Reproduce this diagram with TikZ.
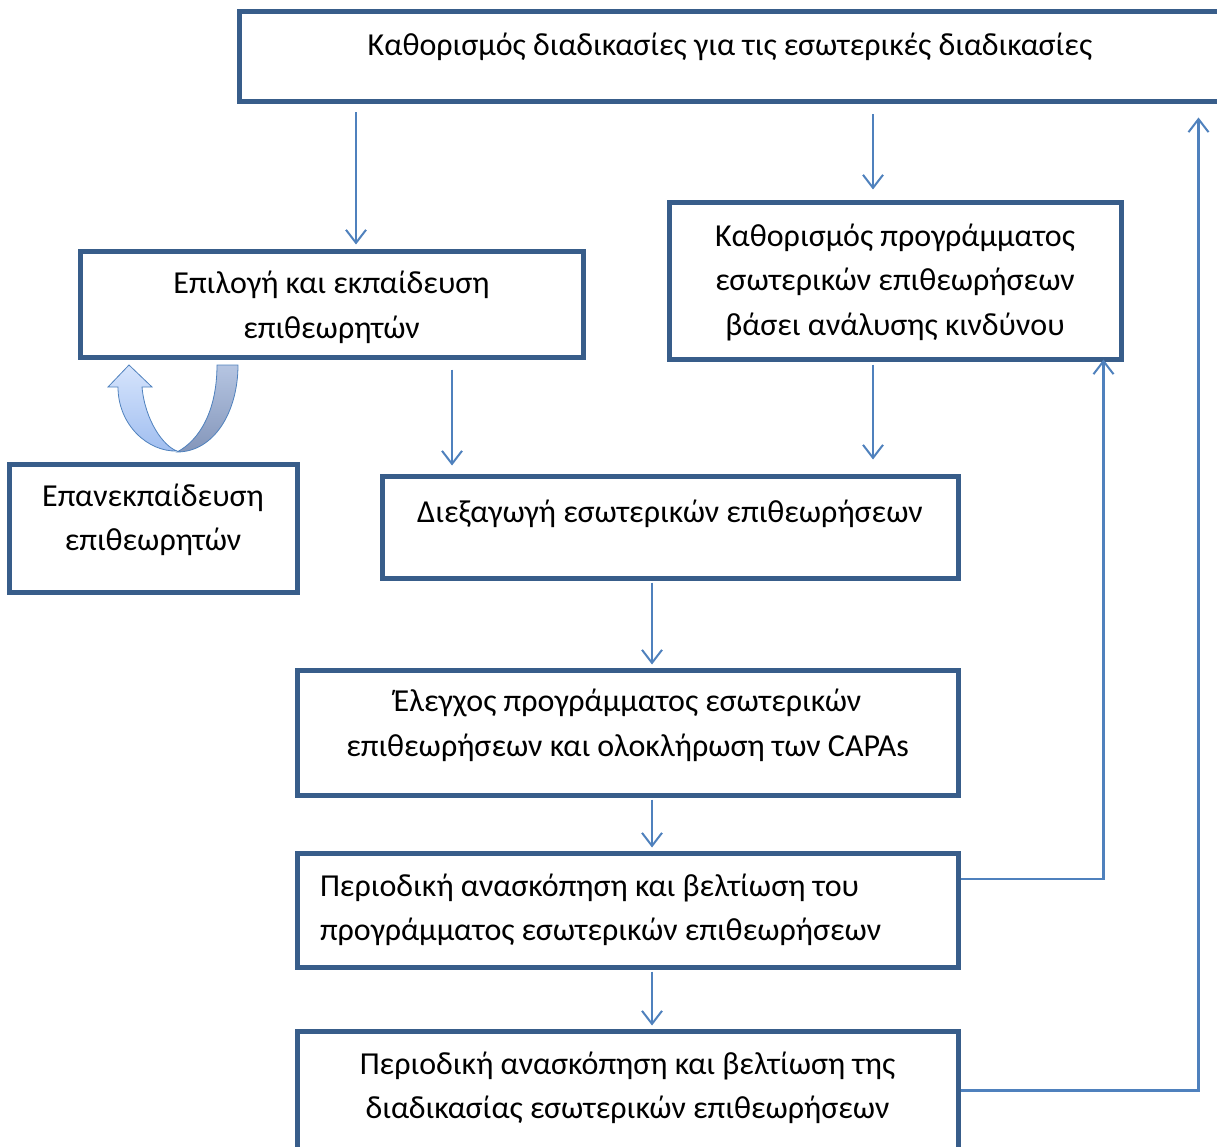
\documentclass[tikz,border=0pt]{standalone}
\usepackage{fontspec}
\setmainfont{Carlito}
\usetikzlibrary{arrows.meta}
\definecolor{boxblue}{RGB}{56,93,138}
\definecolor{flowblue}{RGB}{79,129,189}
\definecolor{turnlight}{RGB}{214,228,252}
\definecolor{turnmid}{RGB}{160,190,240}
\definecolor{turndark}{RGB}{132,150,186}

\begin{document}
\begin{tikzpicture}[x=1pt,y=-1pt]
    \useasboundingbox (0,0) rectangle (1217,1147);

    \begin{scope}[every node/.style={draw=boxblue,line width=5pt,inner sep=0pt,
                  align=center,font=\fontsize{32}{44.5}\selectfont}]
        \node[minimum width=982pt,minimum height=90pt,text depth=25pt] (b1) at (730,57)
            {Καθορισμός διαδικασίες για τις εσωτερικές διαδικασίες};
        \node[minimum width=503pt,minimum height=105pt,text depth=0pt] (b2) at (331.5,304.5)
            {Επιλογή και εκπαίδευση\\επιθεωρητών};
        \node[minimum width=452pt,minimum height=156pt,text depth=3pt] (b3) at (895,281)
            {Καθορισμός προγράμματος\\εσωτερικών επιθεωρήσεων\\βάσει ανάλυσης κινδύνου};
        \node[minimum width=288pt,minimum height=128pt,text depth=22pt] (b4) at (153,528)
            {Επανεκπαίδευση\\επιθεωρητών};
        \node[minimum width=576pt,minimum height=102pt,text depth=32pt] (b5) at (670,527)
            {Διεξαγωγή εσωτερικών επιθεωρήσεων};
        \node[minimum width=661pt,minimum height=125pt,text depth=20pt] (b6) at (627.5,732.5)
            {Έλεγχος προγράμματος εσωτερικών\\επιθεωρήσεων και ολοκλήρωση των CAPAs};
        \node[minimum height=114pt,text width=615pt,inner xsep=23pt,align=flush left] (b7) at (627.5,910)
            {Περιοδική ανασκόπηση και βελτίωση του\\προγράμματος εσωτερικών επιθεωρήσεων};
        \node[minimum width=661pt,minimum height=119pt,text depth=11pt] (b8) at (627.5,1090.5)
            {Περιοδική ανασκόπηση και βελτίωση της\\διαδικασίας εσωτερικών επιθεωρήσεων};
    \end{scope}

    % U-turn arrow below the training box
    \begin{scope}[draw=flowblue,line width=0.8pt]
        \path[shade,top color=turnlight!60!turndark,bottom color=turndark,draw]
            (217,365) -- (238,365) .. controls (238,412) and (214,452) .. (177,452)
            .. controls (200,440) and (217,410) .. (217,365) -- cycle;
        \path[shade,top color=turnlight,bottom color=turnmid,draw]
            (108,387) -- (129,365) -- (152,387) -- (142,387)
            .. controls (145,420) and (163,446) .. (177,451)
            .. controls (148,452) and (118,425) .. (118,387) -- cycle;
    \end{scope}

    \begin{scope}[>={Straight Barb[length=13pt,width=20pt,line width=2pt]},
                  every edge/.style={draw=flowblue,line width=2.2pt,shorten <=2pt,shorten >=3pt}]
        \path[->] ([xshift=-374pt]b1.south) edge[shorten <=8pt,shorten >=5pt] ([xshift=24.5pt]b2.north);
        \path[->] ([xshift=143pt]b1.south) edge[shorten <=10pt,shorten >=11pt] ([xshift=-22pt]b3.north);
        \path[->] ([xshift=120.5pt]b2.south) edge[shorten <=10pt,shorten >=8pt] ([xshift=-218pt]b5.north);
        \path[->] ([xshift=-22pt]b3.south) edge[shorten <=3pt,shorten >=14pt] ([xshift=203pt]b5.north);
        \path[->] ([xshift=-18pt]b5.south) edge ([xshift=24.5pt]b6.north);
        \path[->] ([xshift=24.5pt]b6.south) edge ([xshift=24.5pt]b7.north);
        \path[->] ([xshift=24.5pt]b7.south) edge ([xshift=24.5pt]b8.north);
    \end{scope}

    % feedback lines on the right
    \begin{scope}[>={Straight Barb[length=13pt,width=20pt,line width=2pt]},
                  draw=flowblue,line width=2.2pt]
        \draw[->,shorten >=-2pt] ([yshift=31pt]b7.east) -| ([xshift=-20pt]b3.south east);
        \draw[->,shorten >=13pt] (b8.east) -| ([xshift=-25pt]b1.south east);
    \end{scope}
\end{tikzpicture}
\end{document}
